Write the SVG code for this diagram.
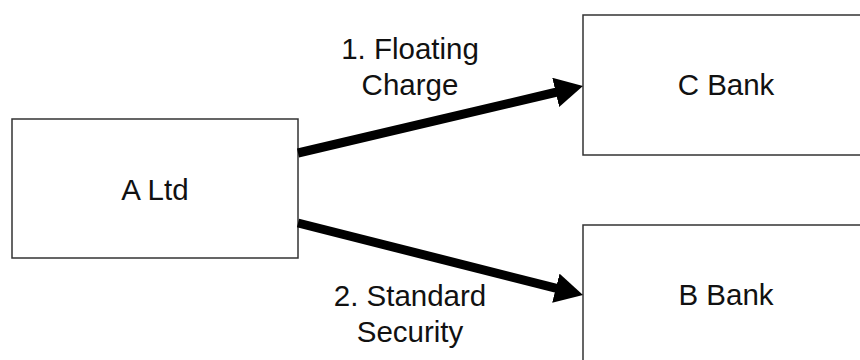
<svg xmlns="http://www.w3.org/2000/svg" width="860" height="360" viewBox="0 0 860 360">
  <style>
    .box { fill: #ffffff; stroke: #333333; stroke-width: 1.5; }
    .txt { font-family: "Liberation Sans", Arial, sans-serif; font-size: 29.5px; fill: #111111; text-anchor: middle; }
    .conn { stroke: #000000; stroke-width: 9; fill: none; }
  </style>
  <defs>
    <marker id="head" markerUnits="userSpaceOnUse" viewBox="0 0 28 30" markerWidth="28" markerHeight="30" refX="8" refY="15" orient="auto">
      <path d="M0,0 L28,15 L0,30 z" fill="#000000"/>
    </marker>
  </defs>
  <rect width="860" height="360" fill="#ffffff"/>
  <g id="node-a-ltd">
    <rect class="box" x="12" y="119" width="286" height="139"/>
    <text class="txt" x="155" y="200">A Ltd</text>
  </g>
  <g id="node-c-bank">
    <rect class="box" x="583" y="15" width="300" height="140"/>
    <text class="txt" x="726" y="95">C Bank</text>
  </g>
  <g id="node-b-bank">
    <rect class="box" x="583" y="225" width="300" height="160"/>
    <text class="txt" x="726" y="305">B Bank</text>
  </g>
  <g id="connectors">
    <line class="conn" x1="298" y1="153" x2="563.5" y2="90.5" marker-end="url(#head)"/>
    <line class="conn" x1="298" y1="223" x2="563.6" y2="290.1" marker-end="url(#head)"/>
    <text class="txt" x="410" y="59">1. Floating</text>
    <text class="txt" x="410" y="95">Charge</text>
    <text class="txt" x="410" y="306">2. Standard</text>
    <text class="txt" x="410" y="342">Security</text>
  </g>
</svg>
